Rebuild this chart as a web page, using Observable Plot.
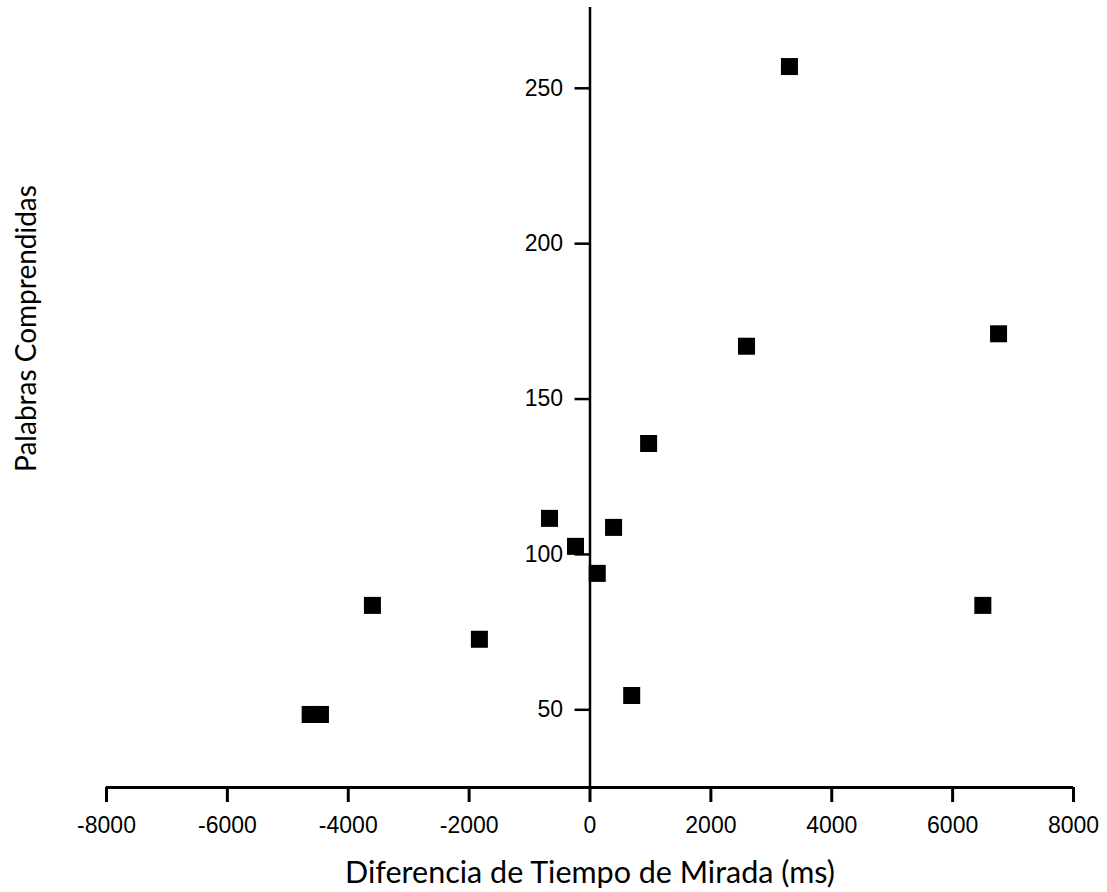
<!DOCTYPE html>
<html>
<head>
<meta charset="utf-8">
<script src="https://cdn.jsdelivr.net/npm/d3@7"></script>
<script src="https://cdn.jsdelivr.net/npm/@observablehq/plot@0.6"></script>
<style>
  html, body { margin: 0; padding: 0; background: #fff; }
  #chart svg { display: block; }
</style>
</head>
<body>
<div id="chart"></div>
<script>
const diffMs = [3300, 2590, 6760, 970, -670, 390, -240, 120, -3600, 6500, -1830, 690, -4630, -4460];
const words  = [257, 167, 171, 135.7, 111.6, 108.7, 102.6, 93.9, 83.6, 83.6, 72.7, 54.6, 48.5, 48.5];
const xTicks = [-8000, -6000, -4000, -2000, 0, 2000, 4000, 6000, 8000];
const yTicks = [50, 100, 150, 200, 250];
const xLabel = "Diferencia de Tiempo de Mirada (ms)";
const yLabel = "Palabras Comprendidas";

const data = diffMs.map((x, i) => ({x, y: words[i]}));

const chart = Plot.plot({
  width: 1107,
  height: 892,
  marginLeft: 106,
  marginRight: 34,
  marginTop: 7,
  marginBottom: 105,
  style: {background: "#fff", fontFamily: "'Liberation Sans', Arial, sans-serif"},
  x: {domain: [-8000, 8000]},
  y: {domain: [25, 276], axis: null},
  marks: [
    Plot.ruleY([25], {strokeWidth: 3, stroke: "#000"}),
    Plot.axisX({ticks: xTicks, tickSize: 15, tickPadding: 14, strokeWidth: 3, fontSize: 23,
      tickFormat: d => String(d), label: null, color: "#000"}),
    Plot.ruleX([0], {strokeWidth: 2.5, stroke: "#000"}),
    Plot.ruleY(yTicks, {y: d => d, x1: 0, x2: 0, insetLeft: -15, strokeWidth: 2.5, stroke: "#000"}),
    Plot.text(yTicks, {x: 0, y: d => d, text: d => String(d), dx: -27, textAnchor: "end", fontSize: 23, fill: "#000"}),
    Plot.dot(data, {x: "x", y: "y", symbol: "square", r: 9.6, fill: "#000", stroke: null}),
    Plot.text([xLabel], {frameAnchor: "bottom", dy: 95, text: d => d, fontSize: 30.5,
      fontFamily: "Lato, 'Open Sans', sans-serif", fill: "#000"}),
    Plot.text([yLabel], {frameAnchor: "left", textAnchor: "middle", dx: -79, dy: -69, rotate: -90, text: d => d, fontSize: 28,
      fontFamily: "Lato, 'Open Sans', sans-serif", fill: "#000"})
  ]
});
document.getElementById("chart").appendChild(chart);
</script>
</body>
</html>
